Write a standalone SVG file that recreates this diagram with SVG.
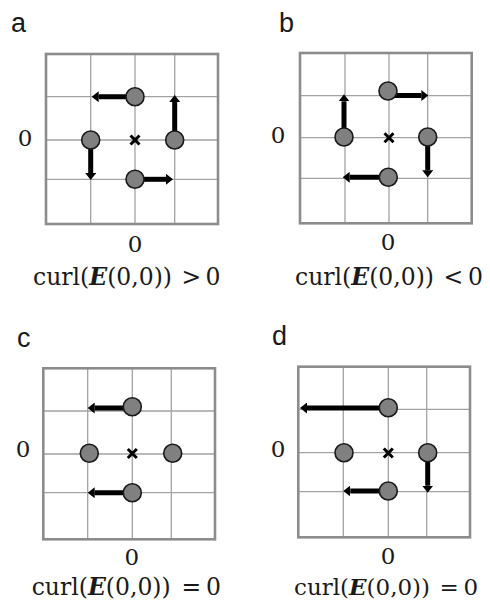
<svg xmlns="http://www.w3.org/2000/svg" width="490" height="605" viewBox="0 0 490 605">
<defs>
<style>
.frame{fill:none;stroke:#8c8c8c;stroke-width:2.6}
.grid{stroke:#a3a3a3;stroke-width:1.3;fill:none}
.pt{fill:#808080;stroke:#1a1a1a;stroke-width:1.6}
.arr{stroke:#000;stroke-width:5;fill:none;marker-end:url(#head)}
.cross{stroke:#000;stroke-width:3;stroke-linecap:butt}
.lbl{font-family:"Liberation Sans",Arial,sans-serif;font-size:27px;fill:#1a1a1a}
.num{font-family:"DejaVu Serif","Liberation Serif",serif;font-size:23px;fill:#1a1a1a;text-anchor:middle}
.eq{font-family:"DejaVu Serif","Liberation Serif",serif;font-size:23.5px;fill:#1a1a1a}
.bi{font-weight:bold;font-style:italic}
</style>
<marker id="head" markerUnits="userSpaceOnUse" markerWidth="7" markerHeight="11" viewBox="0 0 7 11" refX="0" refY="5.5" orient="auto">
<path d="M0,0 L7,5.5 L0,11 z" fill="#000"/>
</marker>
</defs>

<!-- Panel a -->
<g id="panel-a">
<text class="lbl" x="11" y="32">a</text>
<path class="grid" d="M90.7,54V224M135,54V224M174.7,54V224M46,96.7H218M46,140H218M46,179.3H218"/>
<rect class="frame" x="46" y="54" width="172" height="170"/>
<path class="cross" d="M130.5,135.5L139.5,144.5M139.5,135.5L130.5,144.5"/>
<text class="num" x="25" y="146">0</text>
<text class="num" x="135" y="252">0</text>
<text class="eq" x="33" y="285">curl(<tspan class="bi">E</tspan>(0,0))<tspan x="181.5">&gt;</tspan><tspan x="205.5">0</tspan></text>
</g>

<!-- Panel b -->
<g id="panel-b">
<text class="lbl" x="279" y="32">b</text>
<path class="grid" d="M345,53V223.3M389,53V223.3M427.7,53V223.3M300,95.7H471.7M300,137.7H471.7M300,178.3H471.7"/>
<rect class="frame" x="300" y="53" width="171.7" height="170.3"/>
<path class="cross" d="M384.5,133.2L393.5,142.2M393.5,133.2L384.5,142.2"/>
<text class="num" x="278" y="143">0</text>
<text class="num" x="388" y="250">0</text>
<text class="eq" x="295" y="285">curl(<tspan class="bi">E</tspan>(0,0))<tspan x="443.5">&lt;</tspan><tspan x="468">0</tspan></text>
</g>

<!-- Panel c -->
<g id="panel-c">
<text class="lbl" x="17" y="347">c</text>
<path class="grid" d="M87.7,368.3V539.3M132.3,368.3V539.3M171.3,368.3V539.3M43.3,411H215M43.3,454H215M43.3,492.7H215"/>
<rect class="frame" x="43.3" y="368.3" width="171.7" height="171"/>
<path class="cross" d="M127.8,449L136.8,458M136.8,449L127.8,458"/>
<text class="num" x="23" y="457">0</text>
<text class="num" x="131.7" y="565">0</text>
<text class="eq" x="31.7" y="595">curl(<tspan class="bi">E</tspan>(0,0))<tspan x="181.5">=</tspan><tspan x="206">0</tspan></text>
</g>

<!-- Panel d -->
<g id="panel-d">
<text class="lbl" x="272" y="345">d</text>
<path class="grid" d="M343.3,366.7V537.3M388.3,366.7V537.3M426.7,366.7V537.3M298.3,409.3H470M298.3,452.7H470M298.3,491.7H470"/>
<rect class="frame" x="298.3" y="366.7" width="171.7" height="170.6"/>
<path class="cross" d="M383.8,448.5L392.8,457.5M392.8,448.5L383.8,457.5"/>
<text class="num" x="278" y="457">0</text>
<text class="num" x="388" y="564">0</text>
<text class="eq" x="294" y="595" style="font-size:23px">curl(<tspan class="bi">E</tspan>(0,0))<tspan x="439.5">=</tspan><tspan x="463.5">0</tspan></text>
</g>

<!-- Connectors (field arrows) -->
<g id="arrows">
<line class="arr" x1="135" y1="96.7" x2="98.7" y2="96.7"/>
<line class="arr" x1="174.7" y1="140" x2="174.7" y2="102"/>
<line class="arr" x1="90.7" y1="140" x2="90.7" y2="173"/>
<line class="arr" x1="135" y1="179.3" x2="166" y2="179.3"/>

<line class="arr" x1="388" y1="95.5" x2="421.3" y2="95.5"/>
<line class="arr" x1="344" y1="137" x2="344" y2="101.3"/>
<line class="arr" x1="427.7" y1="137" x2="427.7" y2="170.3"/>
<line class="arr" x1="388.3" y1="177.3" x2="349.7" y2="177.3"/>

<line class="arr" x1="132.3" y1="408" x2="94.7" y2="408"/>
<line class="arr" x1="132.3" y1="492.7" x2="94.7" y2="492.7"/>

<line class="arr" x1="388.3" y1="408" x2="307" y2="408"/>
<line class="arr" x1="427.7" y1="452.7" x2="427.7" y2="485.7"/>
<line class="arr" x1="388.3" y1="491" x2="350.3" y2="491"/>
</g>

<!-- Charges / sample points -->
<g id="points">
<circle class="pt" cx="135" cy="96.7" r="9"/>
<circle class="pt" cx="90.7" cy="140" r="9"/>
<circle class="pt" cx="174.7" cy="140" r="9"/>
<circle class="pt" cx="135" cy="179.3" r="9"/>

<circle class="pt" cx="388" cy="91" r="9"/>
<circle class="pt" cx="344" cy="137" r="9"/>
<circle class="pt" cx="427.7" cy="137" r="9"/>
<circle class="pt" cx="388.3" cy="177.3" r="9"/>

<circle class="pt" cx="132.3" cy="406.7" r="9"/>
<circle class="pt" cx="89.3" cy="453.3" r="9"/>
<circle class="pt" cx="172.7" cy="453.3" r="9"/>
<circle class="pt" cx="132.3" cy="492.7" r="9"/>

<circle class="pt" cx="388.3" cy="407.7" r="9"/>
<circle class="pt" cx="344" cy="452.7" r="9"/>
<circle class="pt" cx="427.7" cy="452.7" r="9"/>
<circle class="pt" cx="388.3" cy="491" r="9"/>
</g>
</svg>
